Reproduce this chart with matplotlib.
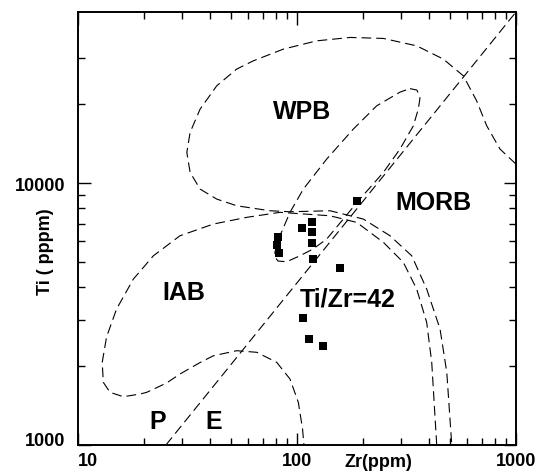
import matplotlib
matplotlib.use('Agg')
import matplotlib.pyplot as plt

plt.rcParams['font.family'] = ['Liberation Sans', 'DejaVu Sans']
plt.rcParams['lines.scale_dashes'] = False

# ---- data (Zr ppm, Ti ppm) ----
wpb_outer_zr = [1000, 845, 735, 661, 575, 466, 352, 248, 175, 123, 86.6, 63.2, 53.0, 43.0, 36.1,
                32.5, 31.4, 32.5, 36.1, 43.0, 53.0, 75.3, 92.9, 141.5, 200.8, 266, 334, 391, 450, 483, 509]
wpb_outer_ti = [11816, 13487, 16548, 20614, 25671, 29737, 33420, 35668, 35980, 34920, 32470, 29295,
                27235, 23517, 19161, 15613, 13096, 10986, 9486, 8689, 8193, 7841, 7773, 7841, 7290,
                6292, 5279, 3940, 2771, 1894, 1000]

iab_zr = [434.5, 412.3, 391, 352, 305.8, 248, 187.3, 141.5, 83.6, 58.9, 41.5, 29.2, 22.1, 17.9, 15.0,
          13.5, 12.9, 13.05, 14.0, 16.1, 19.2, 20.6, 25.4, 29.2, 36.1, 41.5, 53.0, 65.5, 80.8, 92.9,
          101.4, 106.0, 107.6]
iab_ti = [1000, 2068, 2939, 3940, 4982, 5939, 7079, 7502, 7732, 7399, 6975, 6292, 5279, 4301, 3305,
          2584, 2068, 1735, 1589, 1529, 1565, 1589, 1725, 1866, 2065, 2191, 2291, 2259, 2068, 1786,
          1455, 1151, 1000]

wpb_inner_zr = [328.1, 353.1, 364.4, 358.0, 339.8, 295.3, 248.0, 191.9, 165.6, 136.6, 118.3, 103.2,
                89.7, 81.9, 79.3, 79.3, 83.6, 92.9, 106.9, 136.6, 180.8, 231.1, 295.3, 328.1]
wpb_inner_ti = [22945, 22646, 21105, 19161, 16548, 13487, 10986, 8613, 7418, 6113, 5600, 5279,
                5008, 5039, 5219, 5453, 6292, 7732, 9486, 12346, 16075, 19724, 22248, 22945]

ratio_line_zr = [25.2, 1000]
ratio_line_ti = [1000, 45000]

sample_zr = [187, 117.5, 105.7, 117.5, 82.2, 81.3, 117.5, 83.1, 118.7, 157.1, 106.9, 113.8, 131.9]
sample_ti = [8559, 7079, 6716, 6482, 6203, 5800, 5888, 5405, 5128, 4725, 3045, 2532, 2381]

x_major = [10, 100, 1000]
x_major_labels = ['10', '100', '1000']
x_minor = [20, 30, 40, 50, 60, 70, 80, 90, 200, 300, 400, 500, 600, 700, 800, 900]
y_major = [1000, 10000]
y_major_labels = ['1000', '10000']
y_minor = [2000, 3000, 4000, 5000, 6000, 7000, 8000, 9000, 20000, 30000]

region_labels = ['WPB', 'MORB', 'IAB', 'Ti/Zr=42', 'P', 'E']
region_zr = [105.1, 419, 30.3, 170.1, 23.0, 41.5]
region_ti = [18880, 8440, 3825, 3640, 1233, 1233]

# ---- figure ----
W, H = 539, 477
fig = plt.figure(figsize=(W / 100, H / 100), dpi=100)
ax = fig.add_axes([78 / W, 1 - 446 / H, (516 - 78) / W, (446 - 13) / H])
ax.set_xscale('log')
ax.set_yscale('log')
ax.set_xlim(10, 1000)
ax.set_ylim(1000, 45000)

dash = (0, (7, 3.6))
for zr, ti in [(wpb_outer_zr, wpb_outer_ti), (iab_zr, iab_ti),
               (wpb_inner_zr, wpb_inner_ti), (ratio_line_zr, ratio_line_ti)]:
    ax.plot(zr, ti, color='black', lw=0.8, linestyle=dash, solid_capstyle='butt',
            dash_capstyle='butt')

ax.plot(sample_zr, sample_ti, linestyle='none', marker='s', color='black', ms=5.8, mew=0)

for lab, zx, ty in zip(region_labels, region_zr, region_ti):
    ax.text(zx, ty, lab, ha='center', va='center', fontsize=18, fontweight='bold')

ax.set_xticks(x_major, labels=x_major_labels)
ax.set_xticks(x_minor, minor=True, labels=[''] * len(x_minor))
ax.set_yticks(y_major, labels=y_major_labels)
ax.set_yticks(y_minor, minor=True, labels=[''] * len(y_minor))

ax.tick_params(which='both', direction='in', top=True, right=True, width=1)
ax.tick_params(which='major', length=9)
ax.tick_params(which='minor', length=5)
ax.tick_params(axis='y', pad=9, labelsize=13)
ax.tick_params(axis='x', pad=5, labelsize=13)
for lbl in ax.get_xticklabels() + ax.get_yticklabels():
    lbl.set_fontweight('bold')
ax.get_xticklabels()[0].set_horizontalalignment('left')
ax.get_yticklabels()[0].set_verticalalignment('baseline')

for s in ax.spines.values():
    s.set_linewidth(1.4)

fig.text(378 / W, 1 - 463 / H, 'Zr(ppm)', ha='center', va='center', fontsize=13, fontweight='bold')
fig.text(45 / W, 1 - 251.5 / H, 'Ti ( pppm)', ha='center', va='center', fontsize=13,
         fontweight='bold', rotation=90)

fig.savefig('out.png', dpi=100)
